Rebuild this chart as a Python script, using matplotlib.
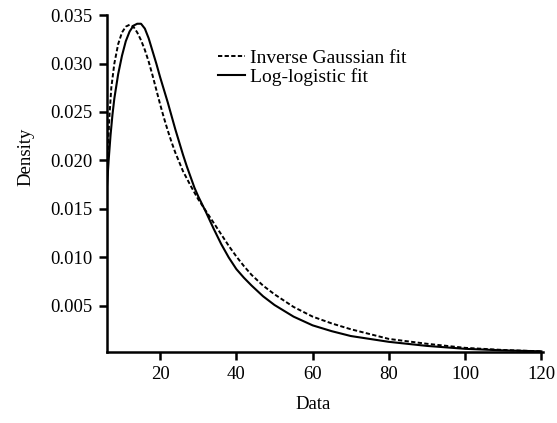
import matplotlib
matplotlib.use("Agg")
import matplotlib.pyplot as plt

# values
ig_x = [6.0, 6.3, 6.7, 7.2, 8.0, 9.0, 10.0, 11.0, 12.0, 13.0, 14.0, 15.0, 16.0,
        17.0, 18.0, 19.0, 20.0, 21.0, 22.0, 23.0, 24.0, 26.0, 28.0, 30.0, 32.0,
        34.0, 36.0, 38.0, 40.0, 42.0, 44.0, 47.0, 50.0, 55.0, 60.0, 65.0, 70.0,
        75.0, 80.0, 90.0, 100.0, 110.0, 120.0]
ig_y = [0.0170, 0.0210, 0.0245, 0.0275, 0.0300, 0.0320, 0.0332, 0.0338, 0.0340,
        0.0338, 0.0332, 0.0324, 0.0314, 0.0302, 0.0288, 0.0273, 0.0258, 0.0244,
        0.0231, 0.0219, 0.0208, 0.0189, 0.0174, 0.0160, 0.0148, 0.0136, 0.0124,
        0.0112, 0.0101, 0.0091, 0.0082, 0.0071, 0.0062, 0.0049, 0.0039, 0.0032,
        0.0026, 0.0021, 0.0016, 0.0011, 0.00068, 0.00046, 0.00032]

ll_x = [6.0, 6.5, 7.0, 7.5, 8.0, 9.0, 10.0, 11.0, 12.0, 13.0, 14.0, 15.0, 16.0,
        17.0, 18.0, 19.0, 20.0, 21.0, 22.0, 23.0, 24.0, 25.0, 26.0, 27.0, 28.0,
        29.0, 30.0, 31.0, 32.0, 34.0, 36.0, 38.0, 40.0, 42.0, 44.0, 47.0, 50.0,
        55.0, 60.0, 65.0, 70.0, 75.0, 80.0, 90.0, 100.0, 110.0, 120.0]
ll_y = [0.0169, 0.0200, 0.0226, 0.0247, 0.0264, 0.0289, 0.0308, 0.0323, 0.0333,
        0.0339, 0.0341, 0.0341, 0.0336, 0.0326, 0.0313, 0.0300, 0.0286, 0.0273,
        0.0260, 0.0246, 0.0232, 0.0219, 0.0206, 0.0194, 0.0183, 0.0172, 0.0163,
        0.0155, 0.0147, 0.0130, 0.0114, 0.0100, 0.0088, 0.0079, 0.0071, 0.0060,
        0.0051, 0.0039, 0.0030, 0.0024, 0.0019, 0.0016, 0.0013, 0.00088,
        0.00058, 0.00042, 0.00032]

x_ticks = [20, 40, 60, 80, 100, 120]
y_ticks = [0.005, 0.010, 0.015, 0.020, 0.025, 0.030, 0.035]

plt.rcParams['font.family'] = ['Liberation Serif', 'DejaVu Serif']
plt.rcParams['font.size'] = 13.5

fig = plt.figure(figsize=(5.57, 4.23), dpi=100)
ax = fig.add_axes([0.1916, 0.1678, 0.7838, 0.7967])

ax.plot(ig_x, ig_y, color="black", lw=1.4, linestyle=(0, (2.2, 1.2)), label="Inverse Gaussian fit")
ax.plot(ll_x, ll_y, color="black", lw=1.5, label="Log-logistic fit")

ax.set_xlim(6.0, 120.5)
ax.set_ylim(0.00025, 0.035)
ax.set_xticks(x_ticks)
ax.set_xticklabels([str(t) for t in x_ticks])
ax.set_yticks(y_ticks)
ax.set_yticklabels(["%.3f" % t for t in y_ticks])

for s in ["top", "right"]:
    ax.spines[s].set_visible(False)
for s in ["left", "bottom"]:
    ax.spines[s].set_linewidth(1.8)
ax.tick_params(width=1.8, length=6, direction="out", pad=4)

ax.set_xlabel("Data")
ax.set_ylabel("Density")
ax.xaxis.set_label_coords(0.4725, -0.13)
ax.yaxis.set_label_coords(-0.166, 0.58)

ax.legend(loc="upper left", bbox_to_anchor=(0.255, 0.898), frameon=False, fontsize=14,
          handlelength=1.4, handletextpad=0.26, labelspacing=0.05,
          borderpad=0, borderaxespad=0)

fig.savefig("out.png", dpi=100)
